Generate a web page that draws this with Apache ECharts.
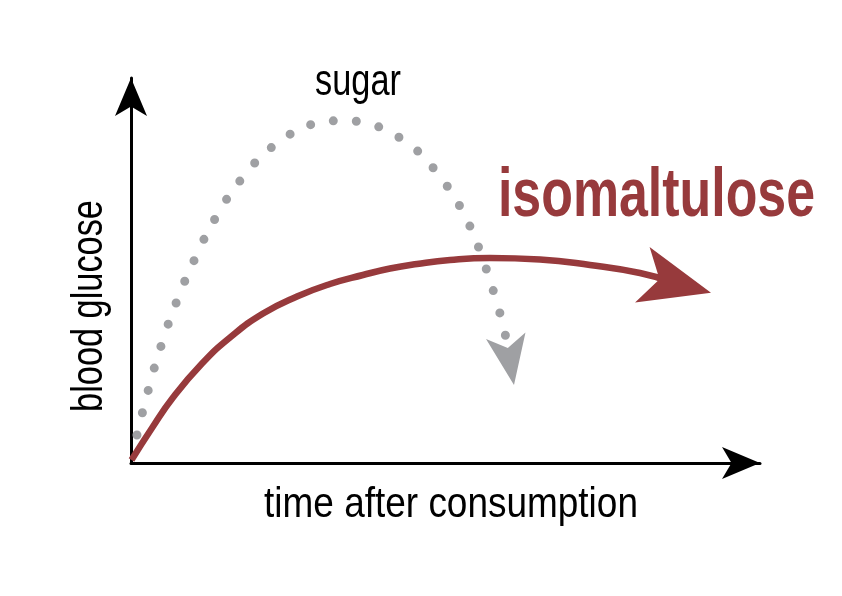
<!DOCTYPE html>
<html>
<head>
<meta charset="utf-8">
<script src="https://cdn.jsdelivr.net/npm/echarts@6/dist/echarts.min.js"></script>
<style>html,body{margin:0;padding:0;background:#fff}#c{width:842px;height:596px}</style>
</head>
<body>
<div id="c"></div>
<script>
// time (0-100) vs blood glucose (0-100)
const sugarX = [0.95, 2.75, 4.88, 7.36, 10.29, 13.72, 17.97, 23.32, 30.05, 33.75, 37.31, 44.09, 49.24, 53.21, 56.12, 58.30, 59.30, 59.54];
const sugarY = [7.27, 18.96, 30.91, 42.34, 53.51, 64.42, 74.55, 83.12, 88.39, 88.91, 88.23, 82.86, 74.10, 63.71, 52.03, 40.86, 34.88, 32.99];
const isoX = [0.08, 3.34, 6.68, 11.29, 15.74, 20.99, 26.39, 31.64, 36.88, 41.18, 45.47, 50.72, 57.07, 65.02, 72.97, 80.92, 85.69];
const isoY = [0.78, 9.09, 17.01, 25.84, 32.60, 38.83, 43.25, 46.49, 48.83, 50.52, 51.69, 52.73, 53.25, 52.86, 51.43, 49.35, 47.12];
// where each curve's arrow points to
const sugarTip = [60.89, 20.26];
const isoTip = [92.21, 44.23];
const labels = { sugar: 'sugar', iso: 'isomaltulose', x: 'time after consumption', y: 'blood glucose' };

const RED = '#973a3c';
const GREY = '#9fa0a3';

const zip = (xs, ys) => xs.map((x, i) => [x, ys[i]]);

const chart = echarts.init(document.getElementById('c'), null, { renderer: 'canvas' });
const axisCommon = {
  type: 'value', min: 0, max: 100,
  axisLine: { show: true, onZero: false, symbol: ['none', 'arrow'], symbolSize: [24, 38], lineStyle: { color: '#000', width: 3 } },
  axisTick: { show: false }, axisLabel: { show: false }, splitLine: { show: false }
};
chart.setOption({
  animation: false,
  backgroundColor: '#fff',
  grid: { left: 131, right: 82, top: 78, bottom: 133 },
  xAxis: axisCommon,
  yAxis: axisCommon,
  series: [
    {
      name: labels.sugar, type: 'line', smooth: 0.5, showSymbol: false,
      data: zip(sugarX, sugarY),
      lineStyle: { color: GREY, width: 9, type: [0, 23], cap: 'round' },
      z: 2
    },
    {
      name: labels.iso, type: 'line', smooth: 0.5, showSymbol: false,
      data: zip(isoX, isoY),
      lineStyle: { color: RED, width: 6.5, cap: 'butt' },
      z: 3
    },
    {
      type: 'scatter', symbol: 'arrow',
      itemStyle: { opacity: 1 },
      data: [
        { value: sugarTip, symbolSize: [30, 50], symbolRotate: -170.5, itemStyle: { color: GREY, opacity: 1 } },
        { value: isoTip, symbolSize: [43, 71], symbolRotate: -104.7, itemStyle: { color: RED, opacity: 1 } }
      ],
      z: 4
    }
  ],
  graphic: [
    { type: 'text', x: 358, y: 83, scaleX: 0.78, style: { text: labels.sugar, font: '44px "Liberation Sans"', fill: '#000', align: 'center', verticalAlign: 'middle', textAlign: 'center', textVerticalAlign: 'middle' } },
    { type: 'text', x: 656.5, y: 197, scaleX: 0.763, style: { text: labels.iso, font: 'bold 68px "Liberation Sans"', fill: RED, align: 'center', verticalAlign: 'middle', textAlign: 'center', textVerticalAlign: 'middle' } },
    { type: 'text', x: 451, y: 505, scaleX: 0.88, style: { text: labels.x, font: '42px "Liberation Sans"', fill: '#000', align: 'center', verticalAlign: 'middle', textAlign: 'center', textVerticalAlign: 'middle' } },
    { type: 'text', x: 90, y: 306, rotation: Math.PI / 2, scaleX: 0.78, style: { text: labels.y, font: '44px "Liberation Sans"', fill: '#000', align: 'center', verticalAlign: 'middle', textAlign: 'center', textVerticalAlign: 'middle' } }
  ]
});
</script>
</body>
</html>
